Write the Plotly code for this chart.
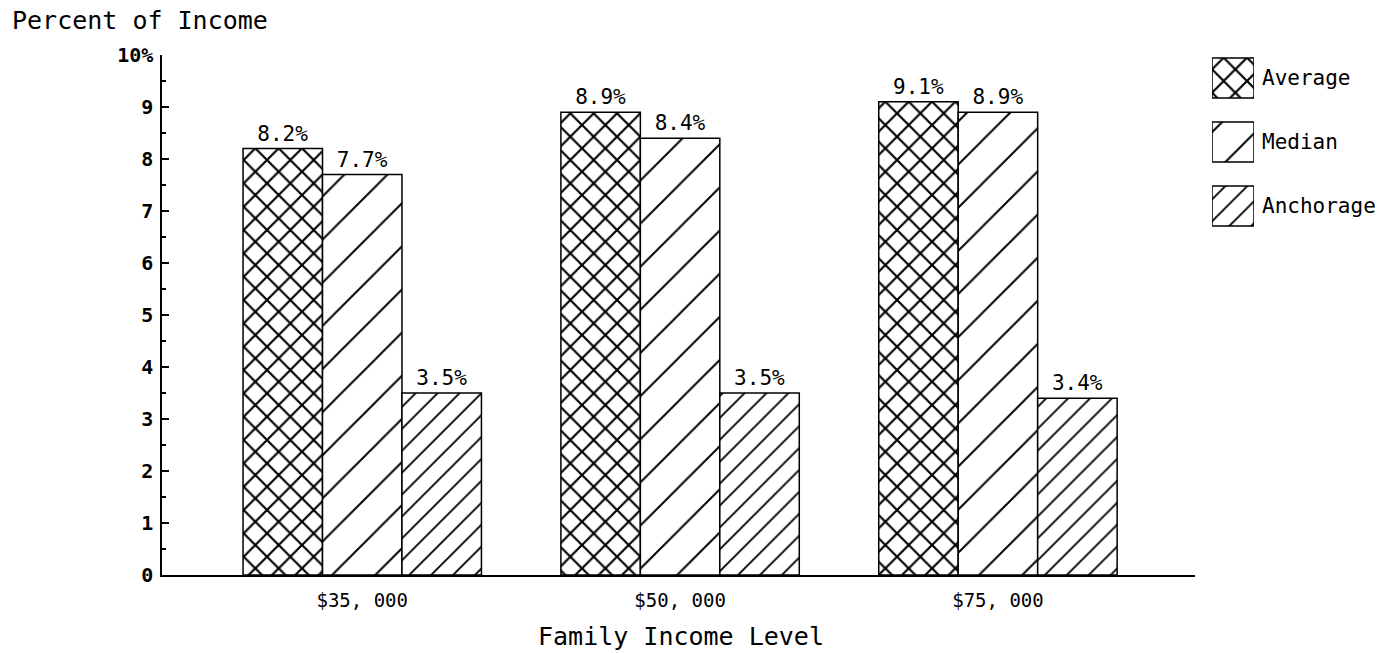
import plotly.graph_objects as go

# ---- data ----
categories = ["$35, 000", "$50, 000", "$75, 000"]
average = [8.2, 8.9, 9.1]
median = [7.7, 8.4, 8.9]
anchorage = [3.5, 3.5, 3.4]
series_names = ["Average", "Median", "Anchorage"]
y_ticks = [0, 1, 2, 3, 4, 5, 6, 7, 8, 9, 10]
y_tick_labels = ["0", "1", "2", "3", "4", "5", "6", "7", "8", "9", "10%"]

# ---- styling ----
W, H = 1394, 653
FONT = "DejaVu Sans Mono"
INK = "black"

# hatch style per series: (shape, tile size, solidity)
hatch = {
    "Average": ("x", 16.5, 0.25),
    "Median": ("/", 30.5, 0.065),
    "Anchorage": ("/", 15.5, 0.12),
}


def px_x(v):
    return v / W


def px_y(v):
    return 1 - v / H


fig = go.Figure()

for name, values in zip(series_names, [average, median, anchorage]):
    shape, size, solidity = hatch[name]
    fig.add_trace(go.Bar(
        name=name,
        x=categories,
        y=values,
        marker=dict(
            color="white",
            line=dict(color=INK, width=1.5),
            pattern=dict(shape=shape, size=size, solidity=solidity,
                         fgcolor=INK, bgcolor="white", fgopacity=1),
        ),
        texttemplate="%{y:.1f}%",
        textposition="outside",
        textfont=dict(family=FONT, size=21, color=INK),
        cliponaxis=False,
        showlegend=False,
    ))

# legend swatches drawn as bars on their own small axes
fig.add_trace(go.Bar(
    orientation="h",
    y=[0, 1, 2],
    x=[1, 1, 1],
    width=0.625,
    marker=dict(
        color="white",
        line=dict(color=INK, width=1.5),
        pattern=dict(
            shape=[hatch[n][0] for n in series_names],
            size=[hatch[n][1] for n in series_names],
            solidity=[hatch[n][2] for n in series_names],
            fgcolor=INK, bgcolor="white", fgopacity=1,
        ),
    ),
    xaxis="x2",
    yaxis="y2",
    showlegend=False,
    hoverinfo="skip",
))

annotations = [
    dict(text="Percent of Income", xref="paper", yref="paper",
         x=px_x(10), y=px_y(20), xanchor="left", yanchor="middle",
         showarrow=False, font=dict(family=FONT, size=25, color=INK)),
    dict(text="Family Income Level", xref="paper", yref="paper",
         x=px_x(681), y=px_y(636), xanchor="center", yanchor="middle",
         borderpad=0,
         showarrow=False, font=dict(family=FONT, size=25, color=INK)),
]
for i, name in enumerate(series_names):
    annotations.append(dict(
        text=name, xref="paper", yref="y2", x=px_x(1260), y=i,
        xanchor="left", yanchor="middle", showarrow=False,
        font=dict(family=FONT, size=21, color=INK)))

fig.update_layout(
    width=W,
    height=H,
    margin=dict(l=0, r=0, t=0, b=0, pad=0, autoexpand=False),
    paper_bgcolor="white",
    plot_bgcolor="white",
    barmode="group",
    bargap=0.25,
    bargroupgap=0,
    font=dict(family=FONT, color=INK),
    xaxis=dict(
        type="category",
        domain=[px_x(162), px_x(1195)],
        range=[-0.63, 2.62],
        showline=True, linecolor=INK, linewidth=2,
        ticks="", showgrid=False, zeroline=False,
        tickfont=dict(family=FONT, size=19, color=INK),
        ticklabelstandoff=7,
    ),
    yaxis=dict(
        domain=[px_y(575), px_y(55)],
        range=[0, 10],
        showline=True, linecolor=INK, linewidth=1.5,
        ticks="inside", ticklen=7, tickwidth=1.5, tickcolor=INK,
        tickvals=y_ticks, ticktext=y_tick_labels,
        tickfont=dict(family=FONT, size=20, color=INK, weight="bold"),
        ticklabelstandoff=3,
        showgrid=False, zeroline=False,
        minor=dict(ticks="inside", ticklen=4, tickwidth=1.5, tickcolor=INK,
                   tick0=0, dtick=0.5, showgrid=False),
    ),
    xaxis2=dict(
        domain=[px_x(1212), px_x(1254)],
        range=[0, 1], visible=False, fixedrange=True,
        anchor="y2",
    ),
    yaxis2=dict(
        domain=[px_y(238), px_y(46)],
        range=[2.5, -0.5], visible=False, fixedrange=True,
        anchor="x2",
    ),
    annotations=annotations,
)

fig.write_html("out.html")
